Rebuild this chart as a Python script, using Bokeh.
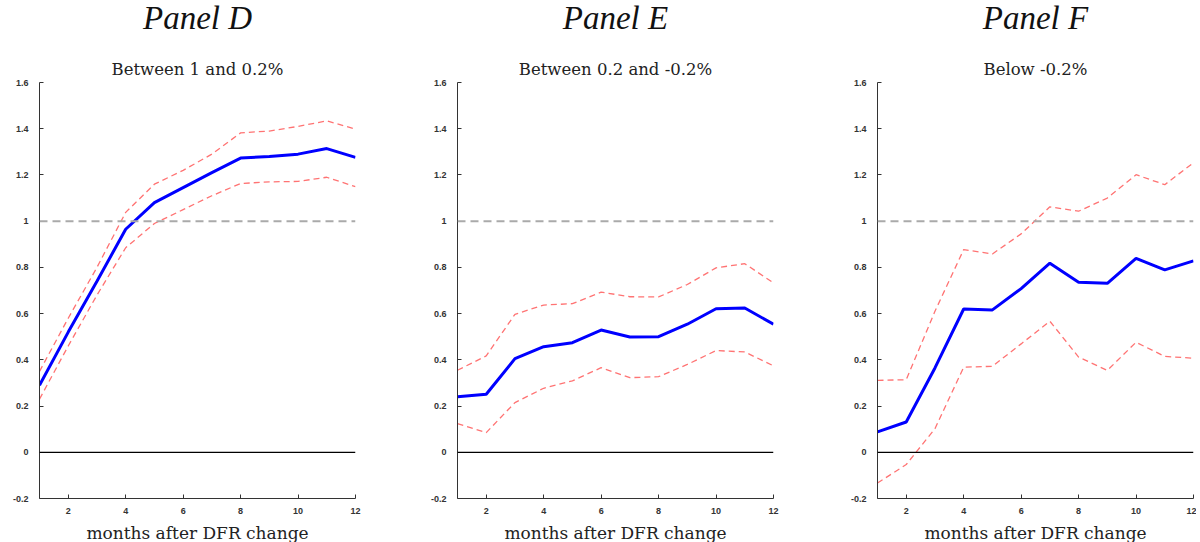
from bokeh.plotting import figure
from bokeh.layouts import row, column
from bokeh.models import FixedTicker, Range1d, Span, Title
from bokeh.core.properties import value
from bokeh.embed import file_html
from bokeh.resources import INLINE

months = [1, 2, 3, 4, 5, 6, 7, 8, 9, 10, 11, 12]

d_mid = [0.29, 0.52, 0.74, 0.965, 1.08, 1.145, 1.21, 1.273, 1.28, 1.29, 1.314, 1.276]
d_up = [0.35, 0.58, 0.80, 1.038, 1.16, 1.22, 1.29, 1.382, 1.39, 1.41, 1.434, 1.398]
d_lo = [0.23, 0.46, 0.68, 0.885, 0.99, 1.05, 1.11, 1.163, 1.17, 1.172, 1.19, 1.149]

e_mid = [0.24, 0.251, 0.405, 0.457, 0.474, 0.529, 0.499, 0.50, 0.554, 0.621, 0.624, 0.554]
e_up = [0.355, 0.417, 0.597, 0.637, 0.643, 0.693, 0.673, 0.672, 0.726, 0.798, 0.816, 0.733]
e_lo = [0.124, 0.085, 0.215, 0.277, 0.309, 0.366, 0.323, 0.327, 0.38, 0.44, 0.434, 0.374]

f_mid = [0.088, 0.131, 0.365, 0.62, 0.616, 0.708, 0.818, 0.736, 0.731, 0.839, 0.789, 0.828]
f_up = [0.311, 0.314, 0.61, 0.877, 0.858, 0.945, 1.062, 1.043, 1.10, 1.201, 1.158, 1.253]
f_lo = [-0.133, -0.053, 0.102, 0.368, 0.372, 0.469, 0.567, 0.412, 0.354, 0.476, 0.415, 0.407]

y_ticks = [-0.2, 0.0, 0.2, 0.4, 0.6, 0.8, 1.0, 1.2, 1.4, 1.6]
y_tick_labels = ["-0.2", "0", "0.2", "0.4", "0.6", "0.8", "1", "1.2", "1.4", "1.6"]
x_ticks = [2, 4, 6, 8, 10, 12]

panel_titles = ["Panel D", "Panel E", "Panel F"]
subtitles = ["Between 1 and 0.2%", "Between 0.2 and -0.2%", "Below -0.2%"]
x_label = "months after DFR change"

series = [(d_mid, d_up, d_lo), (e_mid, e_up, e_lo), (f_mid, f_up, f_lo)]
borders = [(39, 71), (31, 72), (32, 3)]


def make_header(i):
    bl, br = borders[i]
    h = figure(frame_width=316, frame_height=54, output_backend="svg",
               toolbar_location=None, min_border_left=bl, min_border_right=br,
               min_border_top=0, min_border_bottom=0,
               x_range=Range1d(0, 1), y_range=Range1d(0, 54),
               x_axis_type=None, y_axis_type=None)
    h.outline_line_color = None
    h.grid.grid_line_color = None
    h.text(x=[0.5], y=[37], text=[panel_titles[i]], text_align="center",
           text_baseline="alphabetic", text_font=value("Liberation Serif"),
           text_font_size="33px", text_font_style="italic", text_color="#111111")
    return h


def make_panel(i):
    mid, up, lo = series[i]
    bl, br = borders[i]
    p = figure(frame_width=316, frame_height=416, output_backend="svg",
               toolbar_location=None, min_border_left=bl, min_border_right=br,
               min_border_top=28, min_border_bottom=44,
               x_range=Range1d(1, 12), y_range=Range1d(-0.2, 1.6))
    p.outline_line_color = None
    p.grid.grid_line_color = None
    p.background_fill_color = "white"

    p.add_layout(Title(text=subtitles[i], align="center", text_font="DejaVu Serif",
                       text_font_size="16.5px", text_font_style="normal",
                       text_color="#222222", standoff=7), "above")

    for ax in (p.xaxis[0], p.yaxis[0]):
        ax.axis_line_color = "#333333"
        ax.axis_line_width = 1
        ax.major_tick_in = 4
        ax.major_tick_out = 0
        ax.minor_tick_line_color = None
        ax.major_tick_line_color = "#333333"
        ax.major_label_text_font = "Liberation Sans"
        ax.major_label_text_font_style = "bold"
        ax.major_label_text_font_size = "9px"
        ax.major_label_text_color = "#333333"

    p.yaxis.ticker = FixedTicker(ticks=y_ticks)
    p.yaxis.major_label_overrides = {t: s for t, s in zip(y_ticks, y_tick_labels)}
    p.yaxis.major_label_standoff = 11
    p.yaxis.major_label_text_baseline = "bottom"
    p.xaxis.ticker = FixedTicker(ticks=x_ticks)
    p.xaxis.major_label_standoff = 9
    p.xaxis.axis_label = x_label
    p.xaxis.axis_label_text_font = "DejaVu Serif"
    p.xaxis.axis_label_text_font_style = "normal"
    p.xaxis.axis_label_text_font_size = "17px"
    p.xaxis.axis_label_text_color = "#222222"
    p.xaxis.axis_label_standoff = 6

    p.add_layout(Span(location=0, dimension="width", line_color="black", line_width=1.2))
    p.add_layout(Span(location=1, dimension="width", line_color="#aaaaaa",
                      line_width=2, line_dash="8 5"))

    p.line(months, up, line_color="#ff7373", line_width=1.3, line_dash="6 4")
    p.line(months, lo, line_color="#ff7373", line_width=1.3, line_dash="6 4")
    p.line(months, mid, line_color="#0000ff", line_width=3)
    return p


cols = [column(make_header(i), make_panel(i), spacing=0) for i in range(3)]
layout = row(*cols, spacing=0)

open("out.html", "w").write(file_html(layout, INLINE))
